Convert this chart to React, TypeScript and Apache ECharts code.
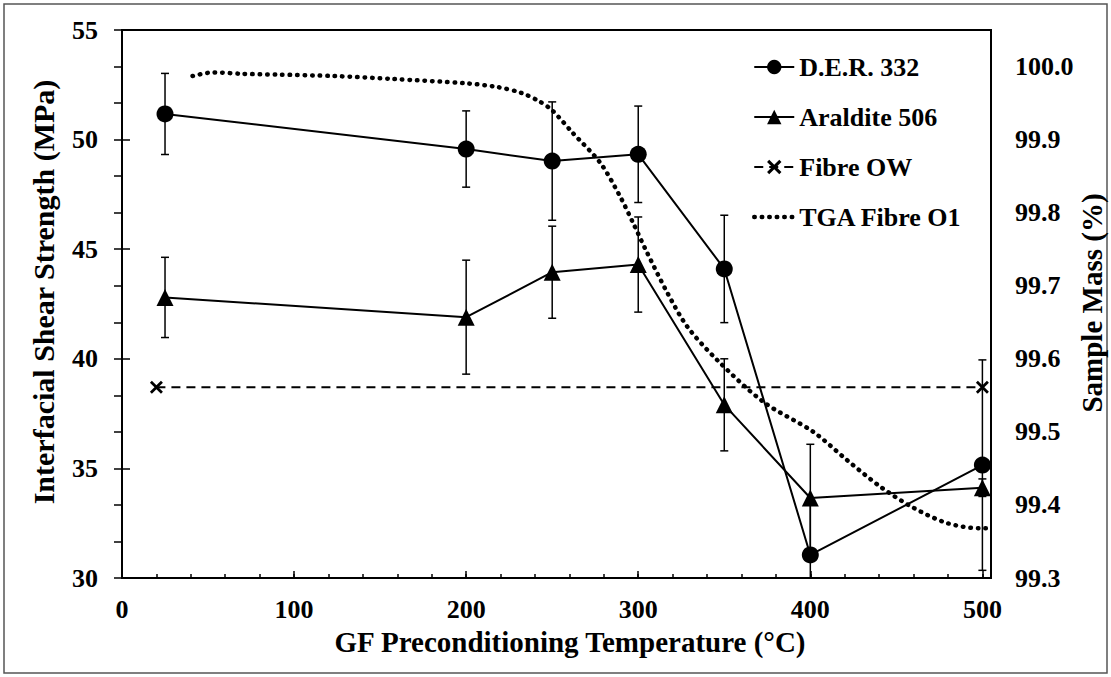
import React, { useEffect, useRef } from "react";
import * as echarts from "echarts";

const temps = [25, 200, 250, 300, 350, 400, 500];
const derIfss = [51.17, 49.57, 49.02, 49.33, 44.1, 31.05, 35.15];
const derErr = [1.85, 1.74, 2.7, 2.2, 2.45, 2.4, 4.8];
const araIfss = [42.8, 41.9, 43.95, 44.3, 37.9, 33.65, 34.12];
const araErr = [1.83, 2.6, 2.1, 2.17, 2.1, 2.45, 0.4];
const owTemps = [20, 500];
const owIfss = [38.7, 38.7];
const tgaTemps = [41, 53, 70, 90, 123, 157, 200, 218, 232, 242, 250, 262, 278, 289.5, 297, 305, 317, 328.5, 346, 372.7, 401.7, 421.5, 440.7, 460, 479.7, 499, 505];
const tgaMass = [99.987, 99.992, 99.99, 99.989, 99.987, 99.983, 99.977, 99.972, 99.964, 99.953, 99.94, 99.909, 99.868, 99.822, 99.786, 99.746, 99.69, 99.644, 99.598, 99.541, 99.5, 99.461, 99.425, 99.396, 99.375, 99.368, 99.368];
const seriesNames = ["D.E.R. 332", "Araldite 506", "Fibre OW", "TGA Fibre O1"];

const FONT = "'Liberation Serif', 'Times New Roman', serif";
const FS = 26;
const TFS = 29;

const xShape = "path://M0,1.5L1.5,0L5,3.5L8.5,0L10,1.5L6.5,5L10,8.5L8.5,10L5,6.5L1.5,10L0,8.5L3.5,5Z";
const dotStyle = { color: "#000", width: 4.5, type: [0.5, 7], cap: "round" };

function errorSeries(vals: number[], errs: number[]) {
  return {
    type: "custom",
    xAxisIndex: 0,
    yAxisIndex: 0,
    z: 1,
    silent: true,
    clip: true,
    data: temps.map((t, i) => [t, vals[i] - errs[i], vals[i] + errs[i]]),
    encode: { x: 0, y: [1, 2] },
    renderItem: (params: any, api: any) => {
      const x = api.value(0);
      const top = api.coord([x, api.value(2)]);
      const bot = api.coord([x, api.value(1)]);
      const w = 4;
      const st = { stroke: "#000", lineWidth: 1.5 };
      return {
        type: "group",
        children: [
          { type: "line", shape: { x1: top[0], y1: top[1], x2: bot[0], y2: bot[1] }, style: st },
          { type: "line", shape: { x1: top[0] - w, y1: top[1], x2: top[0] + w, y2: top[1] }, style: st },
          { type: "line", shape: { x1: bot[0] - w, y1: bot[1], x2: bot[0] + w, y2: bot[1] }, style: st },
        ],
      };
    },
  };
}

export default function App() {
  const ref = useRef<HTMLDivElement>(null);
  useEffect(() => {
    if (!ref.current) return;
    const chart = echarts.init(ref.current, null, { renderer: "svg" });
    const labelStyle = { fontFamily: FONT, fontSize: FS, fontWeight: "bold", color: "#000" };
    chart.setOption({
      animation: false,
      backgroundColor: "#fff",
      grid: { left: 122, right: 120, top: 30, bottom: 99, show: true, borderColor: "#000", borderWidth: 2, backgroundColor: "transparent" },
      xAxis: [
        {
          type: "value", min: 0, max: 505, interval: 20, position: "bottom",
          axisLine: { show: true, lineStyle: { color: "#000", width: 2 } },
          axisTick: { show: true, inside: true, length: 4, lineStyle: { color: "#000", width: 1.5 } },
          axisLabel: { show: false },
          splitLine: { show: false },
        },
        {
          type: "value", min: 0, max: 505, interval: 100, position: "bottom",
          axisLine: { show: false },
          axisTick: { show: true, inside: true, length: 7, lineStyle: { color: "#000", width: 1.5 } },
          axisLabel: { ...labelStyle, lineHeight: 20, margin: 21, showMaxLabel: false, formatter: (v: number) => (v % 100 === 0 && v <= 500 ? String(v) : "") },
          splitLine: { show: false },
        },
      ],
      yAxis: [
        {
          type: "value", min: 30, max: 55, interval: 5, position: "left",
          axisLine: { show: true, lineStyle: { color: "#000", width: 2 } },
          axisTick: { show: true, inside: true, length: 8, lineStyle: { color: "#000", width: 1.5 } },
          axisLabel: { ...labelStyle, margin: 24, padding: [6, 0, 0, 0] },
          splitLine: { show: false },
        },
        {
          type: "value", min: 99.3, max: 100.05, interval: 0.05, position: "right",
          axisLine: { show: true, lineStyle: { color: "#000", width: 2 } },
          axisTick: { show: true, inside: true, length: 8, lineStyle: { color: "#000", width: 1.5 } },
          axisLabel: {
            ...labelStyle, margin: 24, padding: [4, 0, 0, 0],
            formatter: (v: number) => (Math.round(v * 100) % 10 === 0 ? v.toFixed(1) : ""),
          },
          splitLine: { show: false },
        },
      ],
      legend: {
        data: [
          { name: seriesNames[0] },
          { name: seriesNames[1] },
          { name: seriesNames[2] },
          { name: seriesNames[3], itemStyle: { color: "rgba(0,0,0,0)", opacity: 0, borderWidth: 0 }, lineStyle: dotStyle },
        ],
        orient: "vertical",
        left: 747,
        top: 49,
        itemWidth: 40,
        itemHeight: 18,
        itemGap: 24,
        textStyle: { fontFamily: FONT, fontSize: FS, fontWeight: "bold", color: "#000", lineHeight: 25 },
        selectedMode: false,
      },
      graphic: [
        { type: "rect", shape: { x: 4, y: 4, width: 1103, height: 669 }, style: { fill: "none", stroke: "#555", lineWidth: 1.5 }, silent: true },
        { type: "text", x: 43, y: 292, rotation: Math.PI / 2, style: { text: "Interfacial Shear Strength (MPa)", font: `bold 30px ${FONT}`, fill: "#000", textAlign: "center", textVerticalAlign: "middle" } },
        { type: "text", x: 1092, y: 303, rotation: Math.PI / 2, style: { text: "Sample Mass (%)", font: `bold ${TFS}px ${FONT}`, fill: "#000", textAlign: "center", textVerticalAlign: "middle" } },
        { type: "text", x: 570, y: 642, style: { text: "GF Preconditioning Temperature (°C)", font: `bold ${TFS}px ${FONT}`, lineHeight: 24, fill: "#000", textAlign: "center", textVerticalAlign: "middle" } },
      ],
      series: [
        errorSeries(derIfss, derErr),
        errorSeries(araIfss, araErr),
        {
          name: seriesNames[0], type: "line", xAxisIndex: 0, yAxisIndex: 0, z: 3,
          data: temps.map((t, i) => [t, derIfss[i]]),
          symbol: "circle", symbolSize: 17,
          lineStyle: { color: "#000", width: 2 },
          itemStyle: { color: "#000" },
        },
        {
          name: seriesNames[1], type: "line", xAxisIndex: 0, yAxisIndex: 0, z: 3,
          data: temps.map((t, i) => [t, araIfss[i]]),
          symbol: "triangle", symbolSize: 17,
          lineStyle: { color: "#000", width: 2 },
          itemStyle: { color: "#000" },
        },
        {
          name: seriesNames[2], type: "line", xAxisIndex: 0, yAxisIndex: 0, z: 3,
          data: owTemps.map((t, i) => [t, owIfss[i]]),
          symbol: xShape, symbolSize: 13,
          lineStyle: { color: "#000", width: 2, type: [9, 6] },
          itemStyle: { color: "#000" },
        },
        {
          name: seriesNames[3], type: "line", xAxisIndex: 0, yAxisIndex: 1, z: 2,
          data: tgaTemps.map((t, i) => [t, tgaMass[i]]),
          symbol: "none", smooth: 0.3,
          lineStyle: dotStyle,
          itemStyle: { color: "#000" },
        },
      ],
    });
    return () => chart.dispose();
  }, []);
  return <div ref={ref} style={{ position: "fixed", left: 0, top: 0, width: 1111, height: 677 }} />;
}
